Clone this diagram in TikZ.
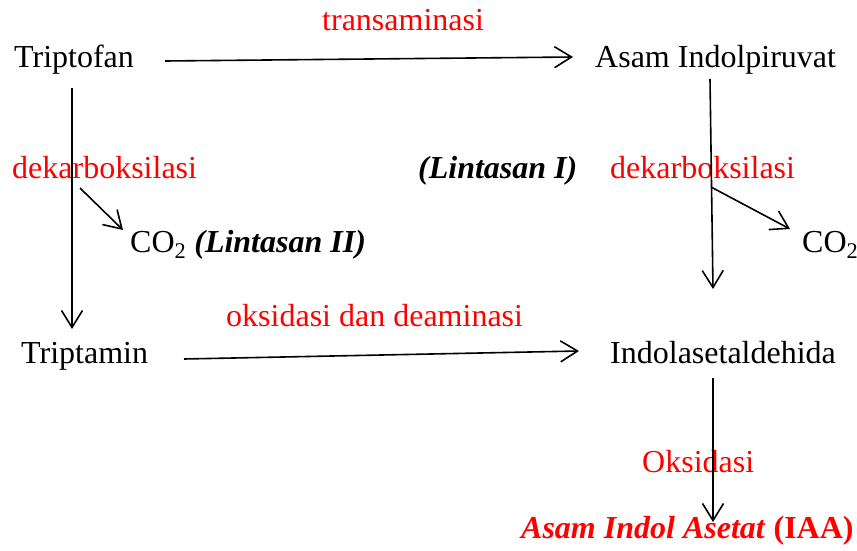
\documentclass[tikz,border=0pt]{standalone}
\usepackage{fontspec}
\setmainfont{Liberation Serif}
\usetikzlibrary{arrows.meta}
\tikzset{
  lbl/.style={anchor=base west, inner sep=0pt, font=\fontsize{32}{38}\selectfont},
  redlbl/.style={lbl, text=red},
  arr/.style={line width=1.6pt, -{Straight Barb[length=17pt, width=21pt, line width=1.6pt]}}
}
\begin{document}
\begin{tikzpicture}[x=1pt, y=-1pt]
\useasboundingbox (0,0) rectangle (857,551);

% compounds
\node[lbl] (trp) at (14,68) {Triptofan};
\node[lbl] (aip) at (595,68) {Asam Indolpiruvat};
\node[lbl] (tam) at (21,363) {Triptamin};
\node[lbl] (ial) at (610,363) {Indolasetaldehida};
\node[lbl] (co2a) at (130,252) {CO\textsubscript{2} \textbf{\textit{(Lintasan II)}}};
\node[lbl] (co2b) at (802,252) {CO\textsubscript{2}};
\node[lbl] (lint1) at (418,178) {\textbf{\textit{(Lintasan I)}}};
\node[redlbl] (iaa) at (521,538) {\textbf{\textit{Asam Indol Asetat}} \textbf{(IAA)}};

% reaction labels
\node[redlbl] (trans) at (322,31) {transaminasi};
\node[redlbl] (dek1) at (12,178) {dekarboksilasi};
\node[redlbl] (dek2) at (610,178) {dekarboksilasi};
\node[redlbl] (oksdea) at (226,326) {oksidasi dan deaminasi};
\node[redlbl] (oks) at (642,472) {Oksidasi};

% arrow end points
\coordinate (p1s) at (165,61);
\coordinate (p1e) at (573,57);
\coordinate (p2s) at (72,88);
\coordinate (p2e) at (72,329);
\coordinate (p3s) at (80,188);
\coordinate (p3e) at (123,230);
\coordinate (p4s) at (710,79);
\coordinate (p4e) at (713,289);
\coordinate (p5s) at (711,187);
\coordinate (p5e) at (790,229);
\coordinate (p6s) at (184,359);
\coordinate (p6e) at (579,351);
\coordinate (p7s) at (713,378);
\coordinate (p7e) at (713,522);

% connectors
\draw[arr] (p1s) -- (p1e);
\draw[arr] (p2s) -- (p2e);
\draw[arr] (p3s) -- (p3e);
\draw[arr] (p4s) -- (p4e);
\draw[arr] (p5s) -- (p5e);
\draw[arr] (p6s) -- (p6e);
\draw[arr] (p7s) -- (p7e);
\end{tikzpicture}
\end{document}
